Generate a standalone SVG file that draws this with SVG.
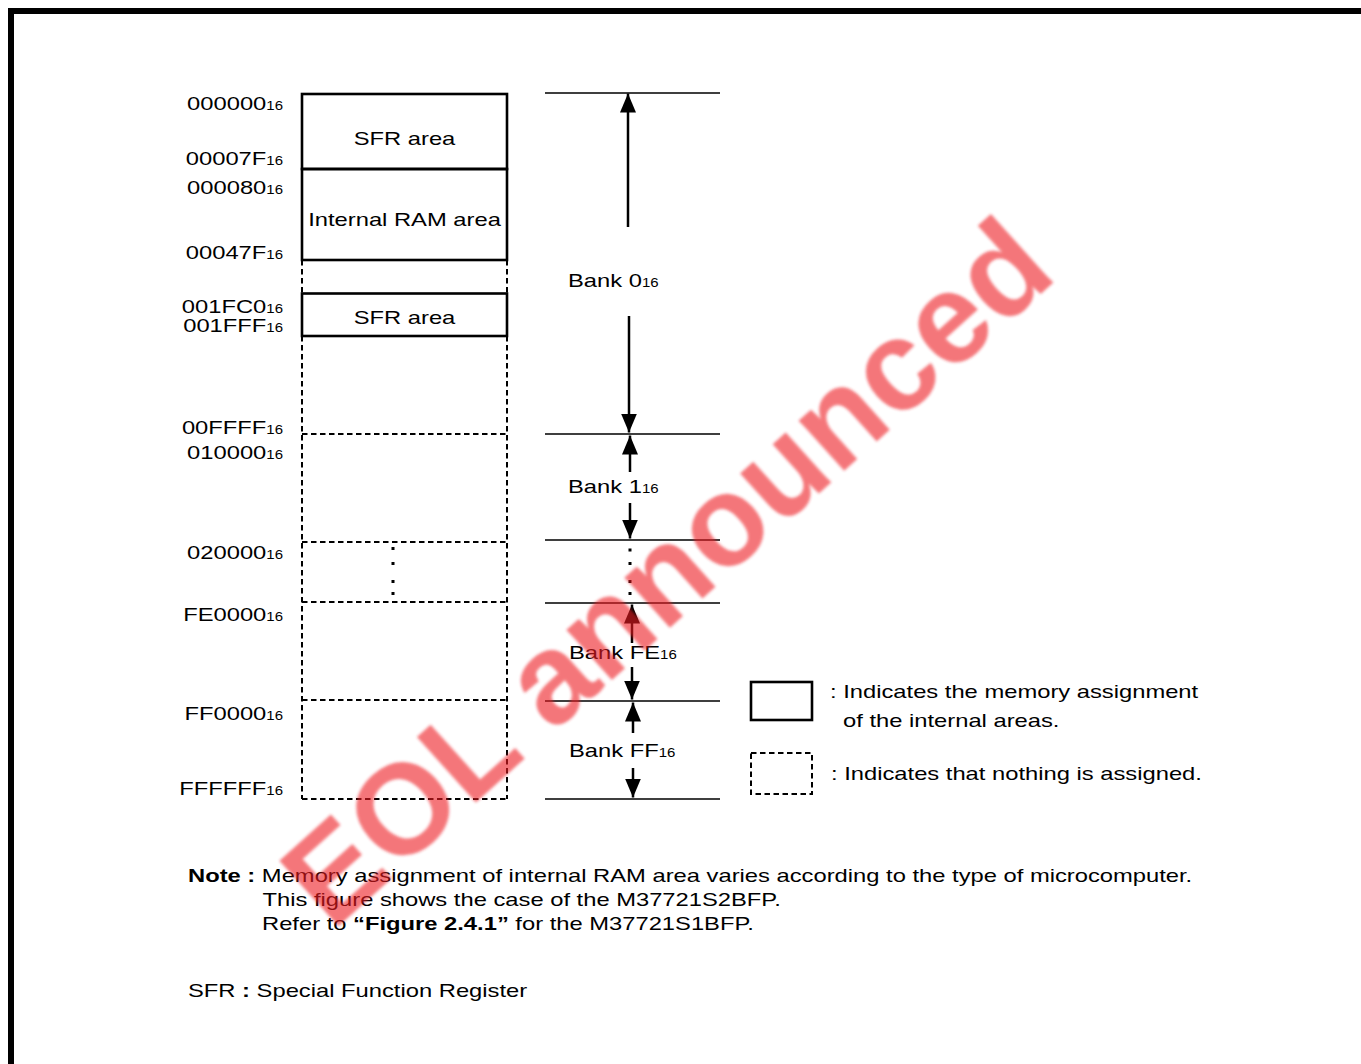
<svg xmlns="http://www.w3.org/2000/svg" width="1361" height="1064" viewBox="0 0 1361 1064">
<defs>
<style>
.t { font-family: "Liberation Sans", Arial, Helvetica, sans-serif; font-size: 19px; fill: #000; }
.s { font-size: 12px; }
.b { font-weight: bold; }
.solid { fill: none; stroke: #000; stroke-width: 2.6; }
.dash { fill: none; stroke: #000; stroke-width: 2; stroke-dasharray: 5.5 3.5; }
.bank { stroke: #000; stroke-width: 1.4; fill: none; }
.arr { stroke: #000; stroke-width: 2.5; fill: none; marker-end: url(#ah); }
.dot { fill: #000; }
</style>
<marker id="ah" viewBox="0 0 19 16" refX="19" refY="8" markerWidth="19" markerHeight="16" orient="auto" markerUnits="userSpaceOnUse">
<path d="M0,0 L19,8 L0,16 z" fill="#000"/>
</marker>
<filter id="soft" x="-5%" y="-5%" width="110%" height="110%">
<feGaussianBlur stdDeviation="1.8"/>
</filter>
</defs>
<rect x="0" y="0" width="1361" height="1064" fill="#fff"/>
<g id="frame">
<path d="M11,1064 V11 H1361" fill="none" stroke="#000" stroke-width="6"/>
</g>

<g id="node-unassigned">
<path class="dash" d="M302,260 V293 M507,260 V293 M302,336 V799 M507,336 V799"/>
<path class="dash" d="M302,434 H507 M302,542 H507 M302,602 H507 M302,700 H507 M302,799 H509"/>
<g class="dot">
<rect x="391.5" y="547" width="3" height="3"/>
<rect x="391.5" y="562" width="3" height="3"/>
<rect x="391.5" y="580" width="3" height="3"/>
<rect x="391.5" y="592" width="3" height="3"/>
</g>
</g>

<g id="node-sfr1">
<rect class="solid" x="302" y="94" width="205" height="75"/>
<text class="t" text-anchor="middle" transform="translate(404.5 145) scale(1.25 1)">SFR area</text>
</g>
<g id="node-ram">
<rect class="solid" x="302" y="169" width="205" height="91"/>
<line x1="302" y1="169" x2="507" y2="169" stroke="#000" stroke-width="1.8"/>
<text class="t" text-anchor="middle" transform="translate(404.5 226) scale(1.25 1)">Internal RAM area</text>
</g>
<g id="node-sfr2">
<rect class="solid" x="302" y="293.5" width="205" height="42.5"/>
<text class="t" text-anchor="middle" transform="translate(404.5 324) scale(1.25 1)">SFR area</text>
</g>

<g id="address-labels" text-anchor="end">
<text class="t" transform="translate(283 110) scale(1.25 1)">000000<tspan class="s">16</tspan></text>
<text class="t" transform="translate(283 165) scale(1.25 1)">00007F<tspan class="s">16</tspan></text>
<text class="t" transform="translate(283 194) scale(1.25 1)">000080<tspan class="s">16</tspan></text>
<text class="t" transform="translate(283 258.5) scale(1.25 1)">00047F<tspan class="s">16</tspan></text>
<text class="t" transform="translate(283 312.5) scale(1.25 1)">001FC0<tspan class="s">16</tspan></text>
<text class="t" transform="translate(283 331.5) scale(1.25 1)">001FFF<tspan class="s">16</tspan></text>
<text class="t" transform="translate(283 433.5) scale(1.25 1)">00FFFF<tspan class="s">16</tspan></text>
<text class="t" transform="translate(283 459) scale(1.25 1)">010000<tspan class="s">16</tspan></text>
<text class="t" transform="translate(283 559) scale(1.25 1)">020000<tspan class="s">16</tspan></text>
<text class="t" transform="translate(283 621) scale(1.25 1)">FE0000<tspan class="s">16</tspan></text>
<text class="t" transform="translate(283 720) scale(1.25 1)">FF0000<tspan class="s">16</tspan></text>
<text class="t" transform="translate(283 795) scale(1.25 1)">FFFFFF<tspan class="s">16</tspan></text>
</g>

<g id="connectors">
<path class="bank" d="M545,93 H720 M545,434 H720 M545,540 H720 M545,603 H720 M545,701 H720 M545,799 H720"/>
<line class="arr" x1="628" y1="227" x2="628" y2="93.5"/>
<line class="arr" x1="629" y1="316" x2="629" y2="432.5"/>
<line class="arr" x1="630" y1="472" x2="630" y2="435.5"/>
<line class="arr" x1="630" y1="503" x2="630" y2="538.5"/>
<line class="arr" x1="632" y1="643" x2="632" y2="604.5"/>
<line class="arr" x1="632" y1="667" x2="632" y2="699.5"/>
<line class="arr" x1="633" y1="733" x2="633" y2="702.5"/>
<line class="arr" x1="633" y1="768" x2="633" y2="797.5"/>
<g class="dot">
<rect x="628.5" y="548.5" width="3" height="3"/>
<rect x="628.5" y="562" width="3" height="3"/>
<rect x="628.5" y="580" width="3" height="3"/>
<rect x="628.5" y="592" width="3" height="3"/>
</g>
</g>

<g id="bank-labels">
<text class="t" transform="translate(568 287) scale(1.25 1)">Bank 0<tspan class="s">16</tspan></text>
<text class="t" transform="translate(568 493) scale(1.25 1)">Bank 1<tspan class="s">16</tspan></text>
<text class="t" transform="translate(569 658.5) scale(1.25 1)">Bank FE<tspan class="s">16</tspan></text>
<text class="t" transform="translate(569 756.5) scale(1.25 1)">Bank FF<tspan class="s">16</tspan></text>
</g>

<g id="legend">
<rect class="solid" x="751" y="682" width="61" height="38"/>
<text class="t" transform="translate(830 698) scale(1.25 1)">: Indicates the memory assignment</text>
<text class="t" transform="translate(843 727) scale(1.25 1)">of the internal areas.</text>
<rect class="dash" x="751" y="753" width="61" height="41"/>
<text class="t" transform="translate(831 780) scale(1.25 1)">: Indicates that nothing is assigned.</text>
</g>

<g id="notes">
<text class="t" transform="translate(188 882) scale(1.25 1)"><tspan class="b">Note :</tspan> Memory assignment of internal RAM area varies according to the type of microcomputer.</text>
<text class="t" transform="translate(262.5 906) scale(1.25 1)">This figure shows the case of the M37721S2BFP.</text>
<text class="t" transform="translate(262 930) scale(1.25 1)">Refer to <tspan class="b">“Figure 2.4.1”</tspan> for the M37721S1BFP.</text>
<text class="t" transform="translate(188 997) scale(1.25 1)">SFR <tspan class="b">:</tspan> Special Function Register</text>
</g>

<g id="watermark" opacity="0.6" filter="url(#soft)">
<text transform="translate(332 932) rotate(-42)" font-family="'Liberation Sans', Arial, sans-serif" font-weight="bold" font-size="128" fill="#ee1c24">EOL announced</text>
</g>
</svg>
